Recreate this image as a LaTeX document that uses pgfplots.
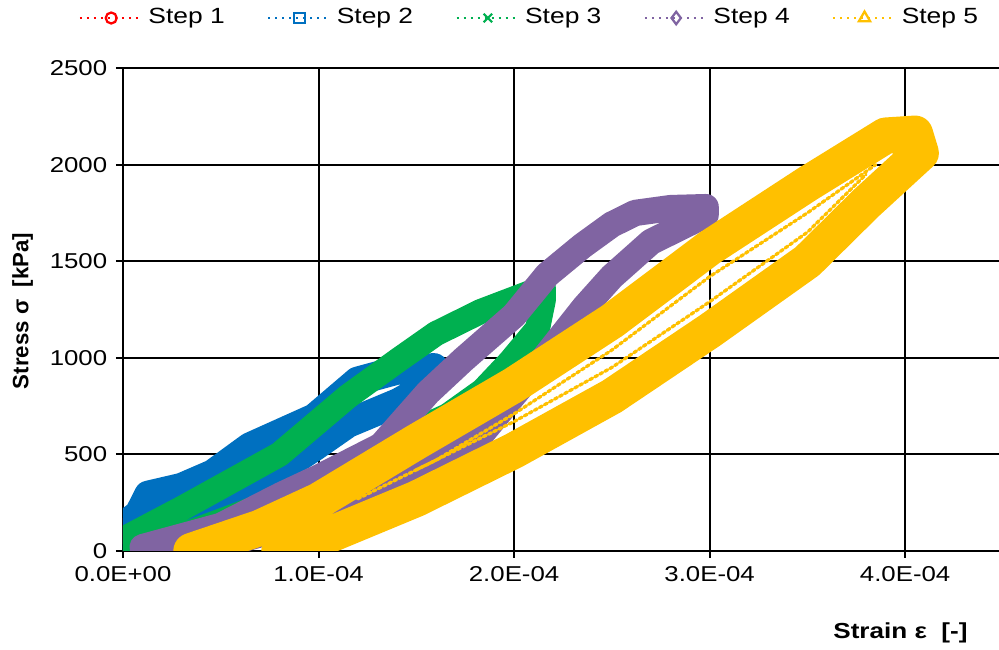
\documentclass[border=0pt]{standalone}
\usepackage{fontspec}
\setmainfont{Liberation Sans}[FakeStretch=1.2]
\newfontfamily\yfont{Liberation Sans}
\usepackage{pgfplots}
\pgfplotsset{compat=1.18}
\definecolor{c1}{RGB}{255,0,0}
\definecolor{c2}{RGB}{0,112,192}
\definecolor{c3}{RGB}{0,176,80}
\definecolor{c4}{RGB}{128,100,162}
\definecolor{c5}{RGB}{255,192,0}
\begin{document}
\begin{tikzpicture}
\begin{axis}[
  scale only axis, width=350.4pt, height=193.2pt,
  xmin=0, xmax=4.48e-4, ymin=0, ymax=2500,
  axis x line=bottom, axis y line=left,
  axis line style={-, line width=0.8pt, black},
  scaled x ticks=false, scaled y ticks=false,
  xtick={0,1e-4,2e-4,3e-4,4e-4},
  xticklabels={\textrm{0.0E+00},\textrm{1.0E-04},\textrm{2.0E-04},\textrm{3.0E-04},\textrm{4.0E-04}},
  ytick={0,500,1000,1500,2000,2500},
  yticklabels={\textrm{0},\textrm{500},\textrm{1000},\textrm{1500},\textrm{2000},\textrm{2500}},
  tick align=outside, major tick length=2.8pt,
  tick style={black, line width=0.8pt},
  grid=major, grid style={black, line width=0.8pt},
  tick label style={font=\fontsize{8.6}{10}\selectfont},
  every axis x label/.style={at={(axis description cs:0.8875,-0.170)}, anchor=center},
  every axis y label/.style={at={(axis description cs:-0.1147,0.497)}, anchor=center, rotate=90},
  xlabel={\fontsize{8.7}{10}\selectfont\bfseries Strain ε~~[-]},
  ylabel={\yfont\fontsize{8.9}{10}\selectfont\bfseries Stress σ~~[kPa]},
  legend columns=5,
  legend style={draw=none, fill=none, at={(axis description cs:0.4658,1.1035)}, anchor=center,
    font=\fontsize{8.8}{10}\selectfont, /tikz/every even column/.append style={column sep=15pt}},
  legend image code/.code={\draw[mark repeat=2,mark phase=2,#1] plot coordinates {(0pt,0pt) (12.5pt,0pt) (25pt,0pt)};},
  band/.style={line join=round, line cap=round, forget plot, mark=none},
]
\coordinate (SW) at (rel axis cs:0,0);
\coordinate (NE) at (rel axis cs:1,1);

\addlegendimage{c1, dotted, line width=0.8pt, mark=o, mark size=2.2pt, mark options={solid, line width=0.9pt}}
\addlegendentry{Step 1}
\addlegendimage{c2, dotted, line width=0.8pt, mark=square, mark size=2.1pt, mark options={solid, line width=0.9pt}}
\addlegendentry{Step 2}
\addlegendimage{c3, dotted, line width=0.8pt, mark=x, mark size=2.4pt, mark options={solid, line width=0.9pt}}
\addlegendentry{Step 3}
\addlegendimage{c4, dotted, line width=0.8pt, mark=diamond, mark size=2.5pt, mark options={solid, line width=0.9pt}}
\addlegendentry{Step 4}
\addlegendimage{c5, dotted, line width=0.8pt, mark=triangle, mark size=2.6pt, mark options={solid, line width=0.9pt}}
\addlegendentry{Step 5}

% Step 1
\addplot[c1, line width=7pt, band] coordinates {
(0,120) (0.2e-4,210) (0.36e-4,340) (0.55e-4,440) (0.77e-4,500)
(0.77e-4,470) (0.55e-4,360) (0.36e-4,250) (0.2e-4,160) (0,80) (0,120)};
% Step 2
\addplot[c2, line width=11.5pt, band] coordinates {
(0,130) (0.08e-4,190) (0.13e-4,290) (0.3e-4,330) (0.46e-4,400) (0.65e-4,540) (0.98e-4,690) (1.2e-4,880) (1.4e-4,935) (1.59e-4,950)
(1.62e-4,900) (1.55e-4,850) (1.41e-4,770) (1.15e-4,660) (0.98e-4,540) (0.77e-4,400) (0.46e-4,250) (0.12e-4,110) (0,50) (0,130)};
% Step 3
\addplot[c3, line width=10pt, band] coordinates {
(0,60) (0.3e-4,220) (0.8e-4,500) (1.15e-4,800) (1.41e-4,990) (1.6e-4,1125) (1.83e-4,1240) (2.09e-4,1340) (2.15e-4,1360)
(2.15e-4,1300) (2.12e-4,1150) (1.98e-4,980) (1.84e-4,830) (1.66e-4,700) (1.4e-4,580) (1.1e-4,420) (0.7e-4,230) (0.3e-4,80) (0,10) (0,60)};
% Step 4
\addplot[c4, line width=10.5pt, band] coordinates {
(0.1e-4,20) (0.5e-4,130) (0.81e-4,290) (1.0e-4,380) (1.32e-4,545) (1.56e-4,820) (1.74e-4,990) (2.0e-4,1220) (2.17e-4,1430) (2.35e-4,1580) (2.5e-4,1690) (2.62e-4,1750) (2.8e-4,1775) (2.98e-4,1780)
(2.98e-4,1740) (2.7e-4,1600) (2.5e-4,1420) (2.36e-4,1262) (2.12e-4,955) (1.84e-4,614) (1.5e-4,380) (1.0e-4,170) (0.5e-4,30) (0.3e-4,0)};
% Step 5
\addplot[c5, line width=14.5pt, band] coordinates {
(0.35e-4,0) (0.7e-4,120) (1.0e-4,260) (1.5e-4,565) (2.0e-4,860) (2.5e-4,1190) (3.0e-4,1570) (3.5e-4,1900) (3.9e-4,2150) (4.05e-4,2160)
(4.08e-4,2060) (3.8e-4,1800) (3.5e-4,1500) (3.0e-4,1140) (2.5e-4,800) (2.0e-4,520) (1.5e-4,270) (1.0e-4,60) (0.8e-4,0)};
\addplot[c5, line width=1.3pt, densely dotted, band] coordinates {
(1.2e-4,270) (1.6e-4,470) (2.0e-4,710) (2.5e-4,1040) (3.0e-4,1420) (3.5e-4,1750) (3.85e-4,2000)};
\addplot[c5, line width=1.3pt, densely dotted, band] coordinates {
(1.5e-4,420) (2.0e-4,670) (2.5e-4,950) (3.0e-4,1290) (3.5e-4,1650) (3.8e-4,1950)};
\end{axis}
\pgfresetboundingbox
\useasboundingbox ([xshift=-49.2pt,yshift=-39.6pt]SW) rectangle ([yshift=27.2pt]NE);
\end{tikzpicture}
\end{document}
